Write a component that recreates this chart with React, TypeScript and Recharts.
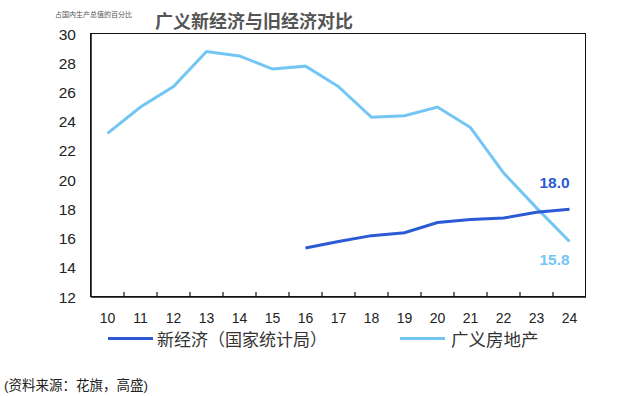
import React from 'react';
import { LineChart, Line, XAxis, YAxis } from 'recharts';

const years = ['10', '11', '12', '13', '14', '15', '16', '17', '18', '19', '20', '21', '22', '23', '24'];
const newEconomy = [null, null, null, null, null, null, 15.35, 15.8, 16.2, 16.4, 17.1, 17.3, 17.4, 17.8, 18.0];
const property = [23.2, 25.0, 26.4, 28.8, 28.5, 27.6, 27.8, 26.4, 24.3, 24.4, 25.0, 23.6, 20.5, 18.1, 15.8];
const yTicks = [12, 14, 16, 18, 20, 22, 24, 26, 28, 30];

const seriesNames = ['新经济（国家统计局）', '广义房地产'];
const DARK = '#2C5AD4';
const LIGHT = '#73C6F4';
const CJK = '"Liberation Sans", "Noto Sans CJK SC", sans-serif';

const data = years.map((y, i) => ({ year: y, newEco: newEconomy[i], prop: property[i] }));

const XTick = (props: any) => {
  const { x, y, payload, index } = props;
  return (
    <g>
      {index < years.length - 1 && (
        <line x1={x + 16.5} x2={x + 16.5} y1={y - 8} y2={y - 13} stroke="#111" strokeWidth={1.2} />
      )}
      <text x={x} y={y + 18} textAnchor="middle" fontSize={14} fill="#222" fontFamily={CJK}>
        {payload.value}
      </text>
    </g>
  );
};

const lastLabel = (color: string, dy: number) => (props: any) => {
  const { x, y, index, value } = props;
  if (index !== years.length - 1) return null;
  return (
    <text x={x - 15} y={y + dy} textAnchor="middle" fontSize={15.5} fontWeight="bold" fill={color} fontFamily={CJK}>
      {Number(value).toFixed(1)}
    </text>
  );
};

export default function App() {
  return (
    <div style={{ position: 'absolute', left: 0, top: 0, width: 629, height: 396, background: '#fff', fontFamily: CJK }}>
      <div style={{ position: 'absolute', left: 55, top: 9, fontSize: 7, color: '#555' }}>占国内生产总值的百分比</div>
      <div style={{ position: 'absolute', left: 155, top: 7, fontSize: 18, fontWeight: 'bold', color: '#555' }}>
        广义新经济与旧经济对比
      </div>
      <LineChart width={629} height={396} data={data} margin={{ top: 34, left: 31, right: 43, bottom: 69 }}>
        <XAxis
          dataKey="year"
          padding={{ left: 16.5, right: 16.5 }}
          height={30}
          tickLine={false}
          axisLine={{ stroke: '#111', strokeWidth: 1.5 }}
          tick={<XTick />}
          interval={0}
        />
        <YAxis
          domain={[12, 30]}
          ticks={yTicks}
          width={60}
          tickLine={false}
          tickSize={13}
          axisLine={{ stroke: '#111', strokeWidth: 1.5 }}
          tick={{ fontSize: 15.5, fill: '#222', fontFamily: CJK }}
          interval={0}
        />
        <Line
          dataKey="prop"
          stroke={LIGHT}
          strokeWidth={3}
          dot={false}
          isAnimationActive={false}
          label={lastLabel(LIGHT, 24)}
        />
        <Line
          dataKey="newEco"
          stroke={DARK}
          strokeWidth={3}
          dot={false}
          isAnimationActive={false}
          label={lastLabel(DARK, -21)}
        />
      </LineChart>
      {/* plot frame */}
      <div
        style={{
          position: 'absolute',
          left: 90.25,
          top: 33.25,
          width: 495.5,
          height: 264,
          border: '1.5px solid #111',
          boxSizing: 'border-box',
          pointerEvents: 'none',
        }}
      />
      <div style={{ position: 'absolute', left: 108, top: 337, width: 45, height: 3, background: DARK }} />
      <div style={{ position: 'absolute', left: 157, top: 326, fontSize: 17, color: '#333' }}>{seriesNames[0]}</div>
      <div style={{ position: 'absolute', left: 400, top: 337, width: 45, height: 3, background: LIGHT }} />
      <div style={{ position: 'absolute', left: 451, top: 326, fontSize: 17.5, color: '#333' }}>{seriesNames[1]}</div>
      <div style={{ position: 'absolute', left: 4, top: 374, fontSize: 13.5, color: '#222' }}>(资料来源：花旗，高盛)</div>
    </div>
  );
}
